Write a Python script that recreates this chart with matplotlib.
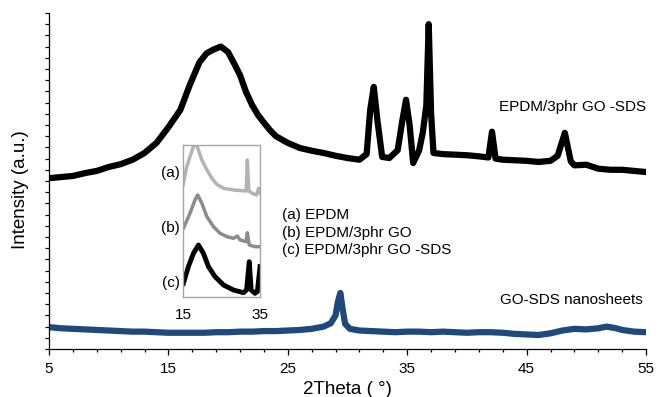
import numpy as np
import matplotlib.pyplot as plt

plt.rcParams['font.family'] = ['Liberation Sans', 'DejaVu Sans']

# main pattern: EPDM/3phr GO-SDS
x_comp = [5, 6, 7, 8, 9, 10, 11, 12, 13, 14, 15, 16, 16.8, 17.6, 18.2, 18.8,
          19.4, 20.0, 20.5, 21, 21.5, 22, 22.5, 23, 23.5, 24, 25, 26, 27, 28,
          29, 30, 31, 31.6, 31.9, 32.2, 32.5, 32.9, 33.5, 34.2, 34.6, 34.9, 35.2,
          35.5, 36.0, 36.3, 36.6, 36.8, 37.0, 37.2, 38, 39, 40, 41, 41.8, 42.1,
          42.4, 43, 44, 45, 46, 47, 47.6, 48.2, 48.7, 49, 50, 51, 52, 53, 54, 55]
y_comp = [3.05, 3.07, 3.09, 3.14, 3.18, 3.25, 3.30, 3.38, 3.50, 3.68, 3.96, 4.27,
          4.72, 5.12, 5.28, 5.35, 5.40, 5.30, 5.10, 4.89, 4.59, 4.36, 4.18, 4.04,
          3.91, 3.80, 3.68, 3.59, 3.54, 3.50, 3.45, 3.41, 3.38, 3.48, 4.27, 4.68,
          4.09, 3.43, 3.41, 3.55, 4.09, 4.45, 4.0, 3.32, 3.55, 3.86, 4.35, 5.80,
          4.2, 3.50, 3.48, 3.47, 3.46, 3.44, 3.42, 3.88, 3.40, 3.38, 3.37, 3.36,
          3.34, 3.36, 3.45, 3.86, 3.35, 3.28, 3.29, 3.22, 3.20, 3.20, 3.18, 3.16]

# GO-SDS nanosheets
x_go = [5, 6, 7, 8, 9, 10, 11, 12, 13, 14, 15, 16, 17, 18, 19, 20, 21, 22, 23,
        24, 25, 26, 27, 28, 28.6, 29.0, 29.2, 29.4, 29.6, 29.8, 30.2, 31, 32,
        33, 34, 35, 36, 37, 38, 39, 40, 41, 42, 43, 44, 45, 46, 47, 48, 49, 50,
        51, 51.7, 52.5, 53, 54, 55]
y_go = [0.39, 0.37, 0.36, 0.35, 0.34, 0.33, 0.32, 0.31, 0.31, 0.30, 0.29, 0.29,
        0.29, 0.29, 0.30, 0.30, 0.31, 0.31, 0.32, 0.32, 0.33, 0.34, 0.36, 0.40,
        0.46, 0.60, 0.85, 1.00, 0.70, 0.45, 0.36, 0.33, 0.32, 0.31, 0.30, 0.31,
        0.31, 0.30, 0.31, 0.30, 0.29, 0.30, 0.30, 0.29, 0.27, 0.26, 0.25, 0.28,
        0.33, 0.36, 0.35, 0.37, 0.40, 0.37, 0.34, 0.31, 0.30]

# inset curves, 15-35 degrees
x_a = [15, 15.96, 16.8, 17.7, 18.1, 19.0, 19.9, 21.2, 22.5, 23.7, 25.5, 28.1,
       30.7, 31.4, 31.7, 32.1, 33.3, 34.1, 34.6, 35.2]
y_a = [7.37, 8.57, 9.23, 9.89, 10.3, 9.67, 9.01, 8.36, 7.81, 7.43, 7.15, 7.04,
       6.99, 6.97, 9.01, 6.97, 6.78, 6.71, 7.15, 6.78]
x_b = [15.1, 16.8, 18.1, 18.8, 19.9, 21.2, 22.9, 24.6, 26.4, 28.1, 29.1, 29.8,
       31.4, 31.7, 32.2, 33.7, 35.2]
y_b = [4.52, 5.5, 6.38, 6.71, 6.16, 5.28, 4.63, 4.19, 3.97, 3.86, 4.01, 3.75,
       3.64, 4.23, 3.42, 3.31, 3.31]
x_c = [15.1, 16.4, 17.7, 19.0, 20.3, 21.6, 23.3, 25.5, 28.1, 30.7, 31.5, 32.2,
       32.7, 33.7, 34.3, 35.0]
y_c = [0.9, 2.0, 2.87, 3.42, 2.87, 2.0, 1.34, 0.79, 0.46, 0.28, 0.46, 2.32,
       0.46, 0.24, 0.35, 2.0]

xticks = [5, 15, 25, 35, 45, 55]

fig = plt.figure(figsize=(6.56, 3.97), dpi=100)
ax = fig.add_axes([0.0747, 0.1209, 0.9101, 0.8464])

ax.plot(x_comp, y_comp, color='black', lw=4.5, solid_joinstyle='round')
ax.plot(x_go, y_go, color='#1f497d', lw=4.5, solid_joinstyle='round')

ax.set_xlim(5, 55)
ax.set_ylim(0, 6)
ax.set_xticks(xticks)
ax.set_xticks(np.arange(5, 56, 2), minor=True)
ax.set_yticks(np.arange(0, 6.1, 1))
ax.set_yticks(np.arange(0, 6.01, 0.2), minor=True)
ax.set_yticklabels([])
ax.spines['top'].set_visible(False)
ax.spines['right'].set_visible(False)
for s in ['left', 'bottom']:
    ax.spines[s].set_linewidth(0.9)
ax.tick_params(axis='x', which='major', length=4, width=0.9, labelsize=11, pad=5)
ax.tick_params(axis='x', which='minor', length=2.5, width=0.9)
ax.tick_params(axis='y', which='both', length=3, width=0.9)

ax.set_xlabel('2Theta ( °)', fontsize=13.5)
ax.xaxis.set_label_coords(0.5, -0.095)
ax.set_ylabel('Intensity (a.u.)', fontsize=13.5)
ax.yaxis.set_label_coords(-0.034, 0.473)

ax.text(55, 4.32, 'EPDM/3phr GO -SDS', ha='right', va='center', fontsize=11)
ax.text(54.75, 0.875, 'GO-SDS nanosheets', ha='right', va='center', fontsize=11)
ax.text(24.5, 2.39, '(a) EPDM', ha='left', va='center', fontsize=11)
ax.text(24.5, 2.07, '(b) EPDM/3phr GO', ha='left', va='center', fontsize=11)
ax.text(24.5, 1.77, '(c) EPDM/3phr GO -SDS', ha='left', va='center', fontsize=11)

# inset
ins = fig.add_axes([0.279, 0.2519, 0.1174, 0.3829])
ins.set_facecolor('none')
ins.plot(x_a, y_a, color='#b3b3b3', lw=2.5)
ins.plot(x_b, y_b, color='#8c8c8c', lw=2.5)
ins.plot(x_c, y_c, color='black', lw=3.5)
ins.set_xlim(15, 35)
ins.set_ylim(0, 10)
ins.set_xticks([15, 35])
ins.set_yticks([])
for s in ins.spines.values():
    s.set_color('#a6a6a6')
    s.set_linewidth(1)
ins.tick_params(axis='x', length=0, labelsize=11, pad=8)
for lab, yy in [('(a)', 0.814), ('(b)', 0.452), ('(c)', 0.09)]:
    ins.text(-0.04, yy, lab, transform=ins.transAxes, ha='right', va='center',
             fontsize=11)

fig.savefig('out.png', dpi=100)
